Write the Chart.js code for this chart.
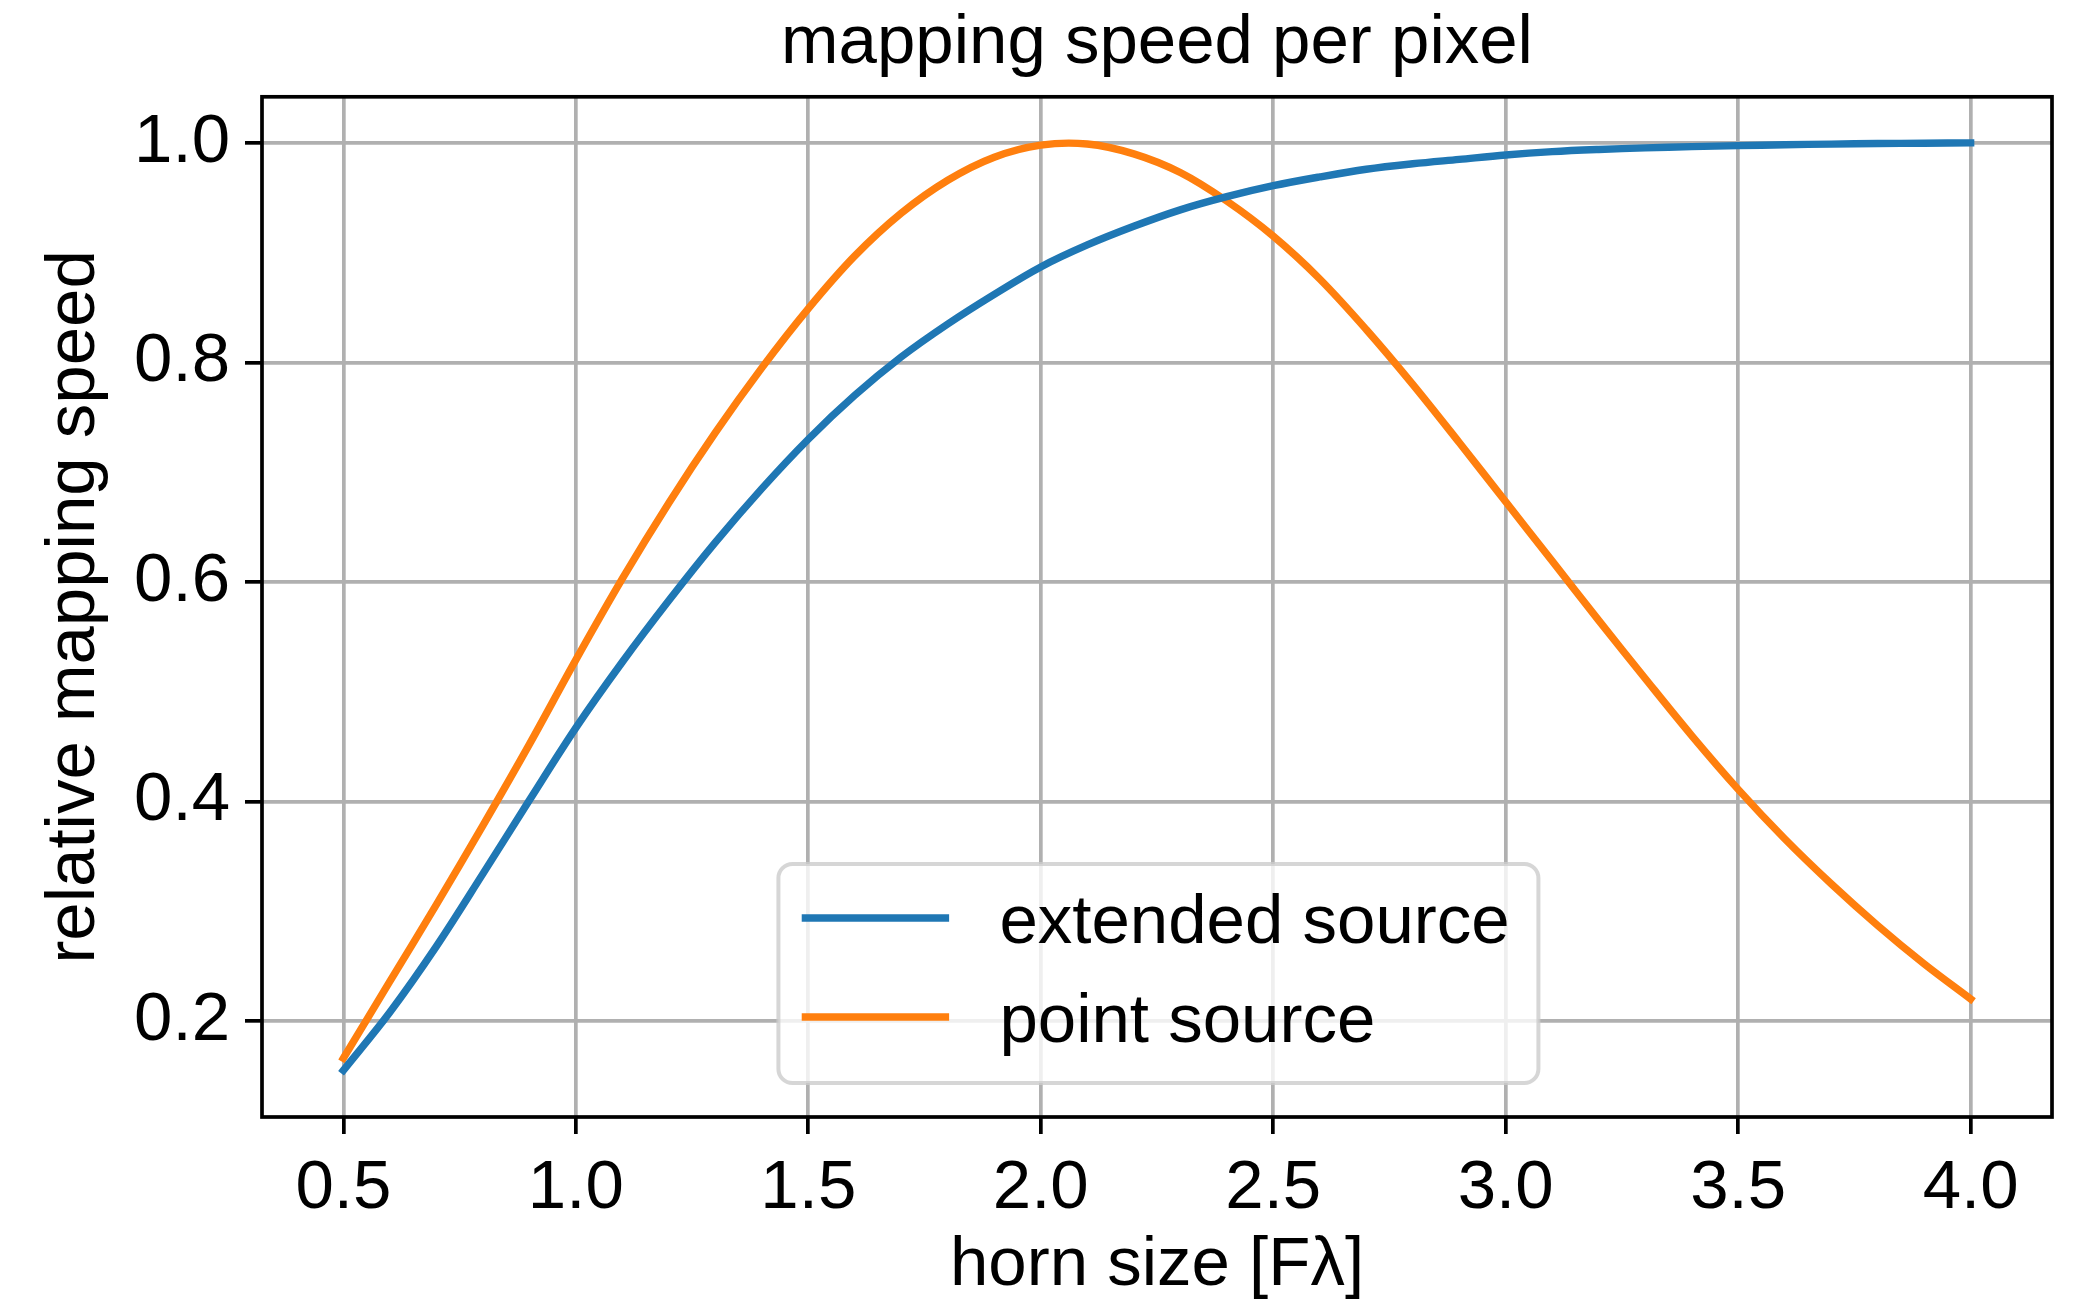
<!DOCTYPE html>
<html>
<head>
<meta charset="utf-8">
<title>mapping speed per pixel</title>
<script src="https://cdn.jsdelivr.net/npm/chart.js@4.4.1/dist/chart.umd.min.js"></script>
<style>
  html, body { margin: 0; padding: 0; background: #fff; }
  canvas { display: block; }
</style>
</head>
<body>
<canvas id="chart" width="2080" height="1303"></canvas>
<script>
// horn size in F-lambda
const hornSize = [
  0.5, 0.6, 0.7, 0.8, 0.9, 1.0, 1.1, 1.2, 1.3, 1.4, 1.5, 1.6,
  1.7, 1.8, 1.9, 2.0, 2.1, 2.2, 2.3, 2.4, 2.5, 2.6, 2.7, 2.8,
  2.9, 3.0, 3.1, 3.2, 3.3, 3.4, 3.5, 3.6, 3.7, 3.8, 3.9, 4.0
];

const extendedSource = [
  0.155, 0.208, 0.268, 0.334, 0.401, 0.467, 0.527, 0.583, 0.636, 0.685, 0.730, 0.770,
  0.805, 0.835, 0.862, 0.887, 0.907, 0.924, 0.939, 0.951, 0.961, 0.969, 0.976, 0.981,
  0.985, 0.989, 0.992, 0.994, 0.9955, 0.9966, 0.9975, 0.9983, 0.9989, 0.9994, 0.9997, 1.000
];

const pointSource = [
  0.166, 0.236, 0.306, 0.378, 0.452, 0.529, 0.603, 0.672, 0.736, 0.795, 0.849, 0.897,
  0.936, 0.966, 0.987, 0.998, 0.999, 0.990, 0.973, 0.947, 0.915, 0.876, 0.830, 0.780,
  0.727, 0.673, 0.619, 0.565, 0.512, 0.460, 0.411, 0.366, 0.325, 0.287, 0.252, 0.220
];

const xTicks = [0.5, 1.0, 1.5, 2.0, 2.5, 3.0, 3.5, 4.0];
const yTicks = [0.2, 0.4, 0.6, 0.8, 1.0];

const FONT = "'Liberation Sans', Arial, sans-serif";
const FS = 69;
const LW = 3.7;

// top/right spines over the data, like the axes frame
const frame = {
  id: 'frame',
  afterDatasetsDraw(chart) {
    const { ctx, chartArea: a } = chart;
    ctx.save();
    ctx.strokeStyle = '#000';
    ctx.lineWidth = LW;
    ctx.strokeRect(a.left, a.top, a.right - a.left, a.bottom - a.top);
    ctx.restore();
  }
};

// legend box in the lower middle of the plot
const boxLegend = {
  id: 'boxLegend',
  afterDraw(chart) {
    const { ctx, chartArea: a } = chart;
    const w = a.right - a.left;
    const h = a.bottom - a.top;
    const x0 = a.left + w * 0.2885;
    const y0 = a.top + h * 0.752;
    const bw = 760, bh = 219, r = 14;

    ctx.save();
    ctx.beginPath();
    ctx.roundRect(x0, y0, bw, bh, r);
    ctx.fillStyle = 'rgba(255,255,255,0.8)';
    ctx.fill();
    ctx.lineWidth = 4;
    ctx.strokeStyle = 'rgba(204,204,204,0.8)';
    ctx.stroke();

    ctx.font = FS + 'px ' + FONT;
    ctx.textBaseline = 'alphabetic';
    ctx.textAlign = 'left';
    chart.data.datasets.forEach((ds, i) => {
      const ly = y0 + 54 + i * 99;
      ctx.beginPath();
      ctx.moveTo(x0 + 27, ly);
      ctx.lineTo(x0 + 167, ly);
      ctx.strokeStyle = ds.borderColor;
      ctx.lineWidth = ds.borderWidth;
      ctx.lineCap = 'square';
      ctx.stroke();
      ctx.fillStyle = '#000';
      ctx.fillText(ds.label, x0 + 221, ly + 25);
    });
    ctx.restore();
  }
};

new Chart(document.getElementById('chart'), {
  type: 'line',
  data: {
    datasets: [
      {
        label: 'extended source',
        data: hornSize.map((x, i) => ({ x, y: extendedSource[i] })),
        borderColor: '#1f77b4',
        borderWidth: 7.4,
        borderCapStyle: 'square',
        pointRadius: 0,
        tension: 0.35,
        fill: false,
      },
      {
        label: 'point source',
        data: hornSize.map((x, i) => ({ x, y: pointSource[i] })),
        borderColor: '#ff7f0e',
        borderWidth: 7.4,
        borderCapStyle: 'square',
        pointRadius: 0,
        tension: 0.35,
        fill: false,
      },
    ],
  },
  options: {
    responsive: false,
    animation: false,
    devicePixelRatio: 1,
    layout: { padding: { top: 0, left: 0, right: 28, bottom: 0 } },
    plugins: {
      legend: { display: false },
      tooltip: { enabled: false },
      title: {
        display: true,
        fullSize: false,
        text: 'mapping speed per pixel',
        color: '#000',
        font: { family: FONT, size: FS, weight: 'normal', lineHeight: 1.2 },
        padding: { top: 3, bottom: 11 },
      },
    },
    scales: {
      x: {
        type: 'linear',
        min: 0.325,
        max: 4.175,
        afterBuildTicks(scale) { scale.ticks = xTicks.map(v => ({ value: v })); },
        afterFit(scale) { scale.height = 186; },
        ticks: {
          color: '#000',
          font: { family: FONT, size: FS },
          padding: 14,
          maxRotation: 0,
          callback: v => Number(v).toFixed(1),
        },
        grid: {
          color: '#b0b0b0',
          lineWidth: LW,
          tickLength: 17,
          tickColor: '#000',
          tickWidth: LW,
        },
        border: { display: false },
        title: {
          display: true,
          text: 'horn size [Fλ]',
          color: '#000',
          font: { family: FONT, size: FS, lineHeight: 1 },
          padding: { top: 0, bottom: 3 },
        },
      },
      y: {
        type: 'linear',
        min: 0.1125,
        max: 1.042,
        afterBuildTicks(scale) { scale.ticks = yTicks.map(v => ({ value: v })); },
        afterFit(scale) { scale.width = 262; },
        ticks: {
          color: '#000',
          font: { family: FONT, size: FS },
          padding: 15,
          callback: v => Number(v).toFixed(1),
        },
        grid: {
          color: '#b0b0b0',
          lineWidth: LW,
          tickLength: 17,
          tickColor: '#000',
          tickWidth: LW,
        },
        border: { display: false },
        title: {
          display: true,
          text: 'relative mapping speed',
          color: '#000',
          font: { family: FONT, size: FS, lineHeight: 1 },
          padding: { top: 40, bottom: 0 },
        },
      },
    },
  },
  plugins: [frame, boxLegend],
});
</script>
</body>
</html>
